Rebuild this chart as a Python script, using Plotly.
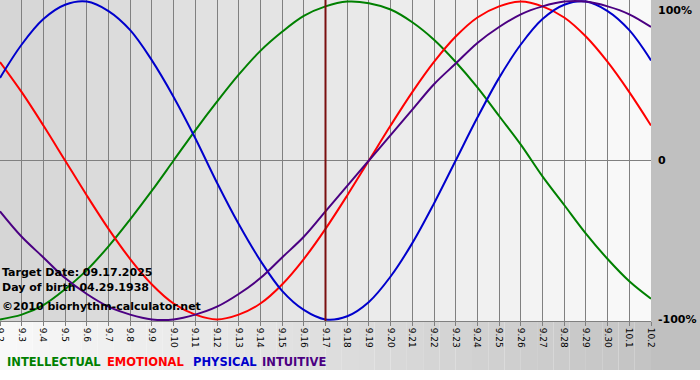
import plotly.graph_objects as go

# ---- data ----
dates = ["9.2", "9.3", "9.4", "9.5", "9.6", "9.7", "9.8", "9.9", "9.10", "9.11",
         "9.12", "9.13", "9.14", "9.15", "9.16", "9.17", "9.18", "9.19", "9.20",
         "9.21", "9.22", "9.23", "9.24", "9.25", "9.26", "9.27", "9.28", "9.29",
         "9.30", "10.1", "10.2"]

intellectual = [-1.00, -0.97, -0.91, -0.81, -0.69, -0.54, -0.37, -0.19, 0.00, 0.19,
                0.37, 0.54, 0.69, 0.81, 0.91, 0.97, 1.00, 0.99, 0.95, 0.87, 0.76,
                0.62, 0.46, 0.28, 0.10, -0.10, -0.28, -0.46, -0.62, -0.76, -0.87]
emotional = [0.62, 0.43, 0.22, 0.00, -0.22, -0.43, -0.62, -0.78, -0.90, -0.97,
             -1.00, -0.97, -0.90, -0.78, -0.62, -0.43, -0.22, 0.00, 0.22, 0.43,
             0.62, 0.78, 0.90, 0.97, 1.00, 0.97, 0.90, 0.78, 0.62, 0.43, 0.22]
physical = [0.52, 0.73, 0.89, 0.98, 1.00, 0.94, 0.82, 0.63, 0.40, 0.14, -0.14,
            -0.40, -0.63, -0.82, -0.94, -1.00, -0.98, -0.89, -0.73, -0.52, -0.27,
            0.00, 0.27, 0.52, 0.73, 0.89, 0.98, 1.00, 0.94, 0.82, 0.63]
intuitive = [-0.32, -0.48, -0.61, -0.74, -0.84, -0.92, -0.97, -1.00, -1.00, -0.97,
             -0.92, -0.84, -0.74, -0.61, -0.48, -0.32, -0.16, 0.00, 0.16, 0.32,
             0.48, 0.61, 0.74, 0.84, 0.92, 0.97, 1.00, 1.00, 0.97, 0.92, 0.84]

series_names = ["INTELLECTUAL", "EMOTIONAL", "PHYSICAL", "INTUITIVE"]
series_values = [intellectual, emotional, physical, intuitive]
series_colors = ["#008000", "#ff0000", "#0000cc", "#4b0082"]

target_label = "9.17"
y_tick_vals = [1, 0, -1]
y_tick_text = ["100%", "0", "-100%"]
info_lines = ["Target Date: 09.17.2025", "Day of birth 04.29.1938",
              "©2010 biorhythm-calculator.net"]

# ---- figure ----
W, H = 700, 380
PL, PR, PT, PB = 0, 49, 0, 59
plot_w = W - PL - PR
plot_h = H - PT - PB
FONT = "DejaVu Sans"

x = list(range(len(dates)))
fig = go.Figure()

# column background (stepped gradient, dark left -> light right)
shapes = []
n = len(dates) - 1
for i in range(n):
    g = int(round(214 + (249 - 214) * i / (n - 1)))
    shapes.append(dict(type="rect", xref="x", yref="paper", x0=i, x1=i + 1, y0=0, y1=1,
                       fillcolor=f"rgb({g},{g},{g})", line=dict(width=0), layer="below"))

# bottom band gradient under the plot
yb_top = 0.0
yb_bot = -49 / plot_h
steps = 40
for i in range(steps):
    g = int(round(248 - (248 - 196) * i / (steps - 1)))
    shapes.append(dict(type="rect", xref="paper", yref="paper",
                       x0=i / steps, x1=(i + 1) / steps, y0=yb_bot, y1=yb_top,
                       fillcolor=f"rgb({g},{g},{g})", line=dict(width=0), layer="below"))
# right grey panel
shapes.append(dict(type="rect", xref="paper", yref="paper", x0=1, x1=W / plot_w,
                   y0=yb_bot, y1=1, fillcolor="rgb(192,192,192)", line=dict(width=0),
                   layer="below"))
# target date line
ti = dates.index(target_label)
shapes.append(dict(type="line", xref="x", yref="paper", x0=ti, x1=ti, y0=0, y1=1,
                   line=dict(color="#7a1010", width=2), layer="above"))

for name, vals, col in zip(series_names, series_values, series_colors):
    fig.add_trace(go.Scatter(x=x, y=vals, mode="lines", name=name,
                             line=dict(color=col, width=2, shape="spline", smoothing=1.0),
                             hoverinfo="skip"))

annotations = []
for k, (v, t) in enumerate(zip(y_tick_vals, y_tick_text)):
    annotations.append(dict(xref="paper", yref="y", x=1, y=v, text=f"<b>{t}</b>",
                            xanchor="left", yanchor="top" if v == 1 else "middle",
                            xshift=5, yshift=0, showarrow=False,
                            font=dict(family=FONT, size=11, color="#000000")))

info_y_px = [272, 287, 306]
for t, py in zip(info_lines, info_y_px):
    annotations.append(dict(xref="paper", yref="paper", x=0, y=1 - py / plot_h,
                            text=f"<b>{t}</b>", xanchor="left", yanchor="middle",
                            xshift=0, showarrow=False,
                            font=dict(family=FONT, size=11, color="#000000")))

legend_x_px = [7, 107, 193, 262]
for name, col, px in zip(series_names, series_colors, legend_x_px):
    annotations.append(dict(xref="paper", yref="paper", x=px / plot_w,
                            y=1 - 362 / plot_h, text=f"<b>{name}</b>",
                            xanchor="left", yanchor="middle", showarrow=False,
                            xshift=-2,
                            font=dict(family=FONT, size=11.5, color=col)))

fig.update_layout(
    width=W, height=H,
    margin=dict(l=PL, r=PR, t=PT, b=PB, pad=0),
    paper_bgcolor="#ffffff", plot_bgcolor="rgba(0,0,0,0)",
    showlegend=False,
    shapes=shapes, annotations=annotations,
    xaxis=dict(range=[0, n], tickmode="array", tickvals=x, ticktext=dates,
               tickangle=90, ticks="outside", ticklen=4, tickcolor="#808080",
               ticklabeloverflow="allow", automargin=False,
               showgrid=True, gridcolor="#808080", gridwidth=1,
               showline=True, linecolor="#808080", linewidth=1,
               zeroline=False, fixedrange=True,
               tickfont=dict(family=FONT, size=9, color="#000000")),
    yaxis=dict(range=[-1.01, 1.01], showticklabels=False, showgrid=False,
               zeroline=True, zerolinecolor="#808080", zerolinewidth=1,
               fixedrange=True, automargin=False),
)

fig.write_html("out.html", config={"displayModeBar": False},
               post_script="document.body.style.margin='0px';"
                           "document.body.style.overflow='hidden';")
